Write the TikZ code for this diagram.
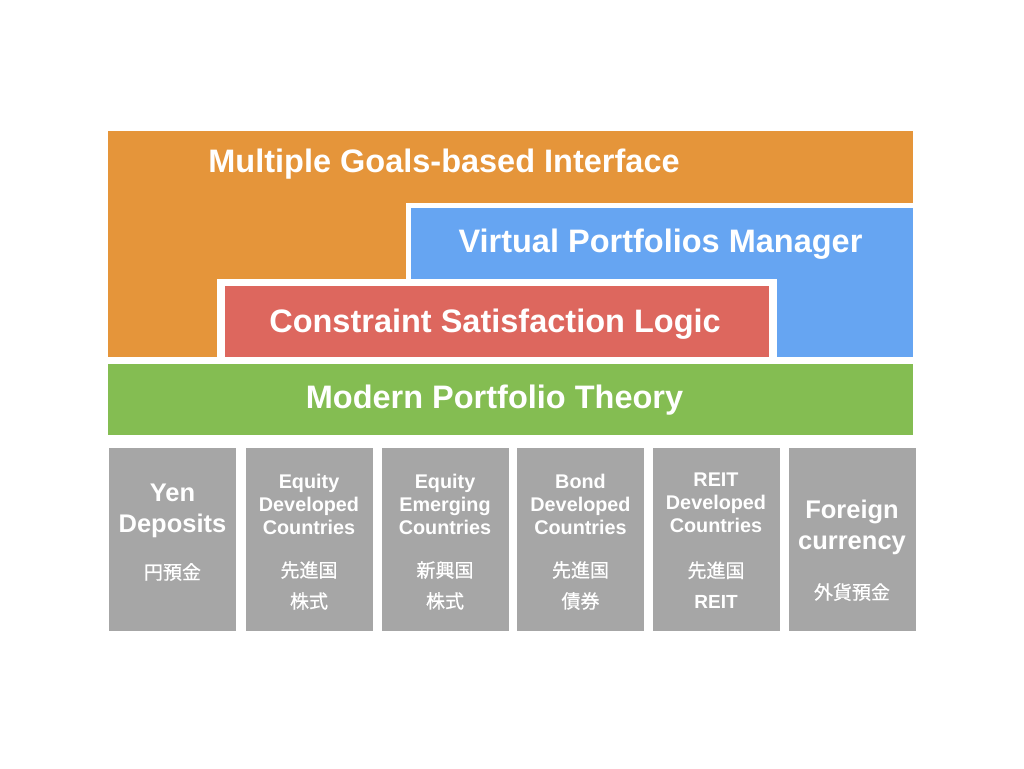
\documentclass[tikz,border=0pt]{standalone}
\usepackage{fontspec}
\setmainfont{Liberation Sans}
\newfontfamily\jpfont[FakeBold=0.6]{Noto Sans CJK JP}
\definecolor{cOrange}{RGB}{229,149,58}
\definecolor{cBlue}{RGB}{102,165,242}
\definecolor{cRed}{RGB}{221,103,94}
\definecolor{cGreen}{RGB}{132,189,82}
\definecolor{cGray}{RGB}{166,166,166}
\tikzset{
  box/.style={rectangle, anchor=north west, inner sep=0pt, outer sep=0pt, draw=none},
  gbox/.style={box, fill=cGray, minimum width=127pt, minimum height=183pt},
  title/.style={text=white, inner sep=0pt, font=\fontsize{32.5}{38}\selectfont\bfseries},
  enlbl/.style={text=white, inner sep=0pt, align=center, font=\fontsize{19.8}{23}\selectfont\bfseries},
  biglbl/.style={text=white, inner sep=0pt, align=center, font=\fontsize{25.5}{31}\selectfont\bfseries},
  jplbl/.style={text=white, inner sep=0pt, align=center, font=\fontsize{19}{31}\selectfont\jpfont},
}
\begin{document}
\begin{tikzpicture}[x=1pt,y=-1pt]
\useasboundingbox[fill=white] (0,0) rectangle (1024,768);
% orange base
\node[box, fill=cOrange, minimum width=805pt, minimum height=226pt] (orange) at (108,131) {};
% blue with white border
\node[box, fill=white, minimum width=507pt, minimum height=154pt] (bluebg) at (406,203) {};
\node[box, fill=cBlue, minimum width=502pt, minimum height=149pt] (blue) at (411,208) {};
% red with white border
\node[box, fill=white, minimum width=560pt, minimum height=78pt] (redbg) at (217,279) {};
\node[box, fill=cRed, minimum width=544pt, minimum height=71pt] (red) at (225,286) {};
% green
\node[box, fill=cGreen, minimum width=805pt, minimum height=71pt] (green) at (108,364) {};
% titles
\node[title] (t1) at (444,164) {Multiple Goals-based Interface};
\node[title] (t2) at (660.5,244) {Virtual Portfolios Manager};
\node[title] (t3) at (495,324) {Constraint Satisfaction Logic};
\node[title] (t4) at (494.5,400) {Modern Portfolio Theory};
% gray boxes
\node[gbox] (b1) at (109,448) {};
\node[gbox] (b2) at (245.5,448) {};
\node[gbox] (b3) at (381.5,448) {};
\node[gbox] (b4) at (517,448) {};
\node[gbox] (b5) at (653,448) {};
\node[gbox] (b6) at (789,448) {};
% box labels
\node[biglbl] (e1) at (172.5,511) {Yen\\Deposits};
\node[jplbl] (j1) at (172.5,572) {円預金};
\node[enlbl] (e2) at (309,504) {Equity\\Developed\\Countries};
\node[jplbl] (j2) at (309,585.5) {先進国\\株式};
\node[enlbl] (e3) at (445,504) {Equity\\Emerging\\Countries};
\node[jplbl] (j3) at (445,585.5) {新興国\\株式};
\node[enlbl] (e4) at (580.5,504) {Bond\\Developed\\Countries};
\node[jplbl] (j4) at (580.5,585.5) {先進国\\債券};
\node[enlbl] (e5) at (716,503) {REIT\\Developed\\Countries};
\node[jplbl] (j5) at (716,585) {先進国\\{\bfseries\rmfamily REIT}};
\node[biglbl] (e6) at (852,527) {Foreign\\currency};
\node[jplbl] (j6) at (852,592) {外貨預金};
\end{tikzpicture}
\end{document}
